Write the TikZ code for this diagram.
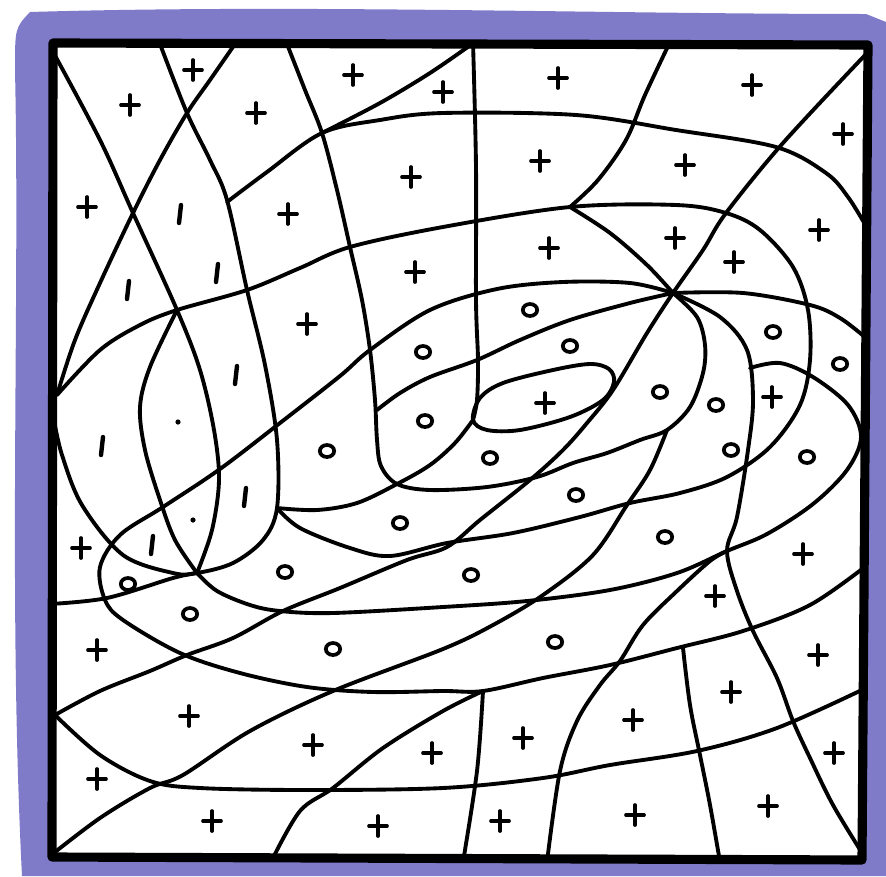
\documentclass[tikz,border=0pt]{standalone}
\definecolor{crayon}{RGB}{128,123,201}
\tikzset{
  ink/.style={line width=2.2pt, line cap=round, line join=round},
  framestyle/.style={line width=5.2pt, line join=round, line cap=round},
  mk/.style={line width=2.1pt, line cap=round},
  plusmk/.pic={\draw[mk] (-9,0) -- (9,0); \draw[mk] (0,-10) -- (0,10);},
  ringmk/.pic={\draw[mk] (0,0) ellipse [x radius=7.2, y radius=6];},
  onemk/.pic={\draw[line width=2.5pt, line cap=round] (1,-9) -- (-1,9);},
  dotmk/.pic={\fill (0,0) circle [radius=2.6];},
}
\begin{document}
\begin{tikzpicture}[x=0.02cm, y=-0.02cm]
\useasboundingbox (0,0) rectangle (886,876);
% crayon border
\fill[crayon] (30,12) .. controls (300,4) and (600,14) .. (866,14) -- (886,22) -- (886,876) -- (22,876)
   .. controls (8,600) and (20,300) .. (15,70) .. controls (15,28) .. (30,12) -- cycle;
\fill[white] (53,43) -- (868,45) -- (862,860) -- (52,857) -- cycle;
% junctions
\coordinate (star) at (673,293);
\coordinate (lensb) at (197,573);
\coordinate (ub) at (277,508);
\coordinate (hook) at (397,484);
\coordinate (ell) at (473,420);
\coordinate (vj) at (727,551);
\coordinate (h1j) at (322,133);
\coordinate (tj) at (570,207);
\coordinate (lf1) at (57,395);
\coordinate (lf2) at (55,715);
\coordinate (ov) at (667,430);
\coordinate (sj) at (483,691);
\begin{scope}
\clip (53,43) -- (868,45) -- (862,860) -- (52,857) -- cycle;
% a + S1
\draw[ink] plot[smooth, tension=0.55] coordinates {(52,50) (100,140) (133,213) (177,310) (200,370) (214,430) (219,480) (212,530) (lensb)};
\draw[ink] plot[smooth, tension=0.55] coordinates {(lensb) (217,591) (250,605) (280,611) (333,613) (443,607) (527,601) (610,590) (677,573) (vj) (767,534) (813,504) (847,470) (861,437) (848,405) (813,377) (780,363) (750,368)};
% b
\draw[ink] plot[smooth, tension=0.55] coordinates {(235,44) (210,80) (187,113) (160,160) (133,213) (100,283) (75,340) (lf1)};
% c (U)
\draw[ink] plot[smooth, tension=0.55] coordinates {(160,44) (187,113) (210,160) (227,200) (247,290) (265,365) (277,440) (ub) (263,540) (233,563) (lensb) (173,573) (123,555) (82,505) (62,455) (54,420)};
% d
\draw[ink] plot[smooth, tension=0.55] coordinates {(287,44) (305,90) (h1j) (337,190) (350,247) (362,300) (370,350) (375,400) (377,440) (381,466) (hook) (430,490) (487,487) (537,477) (573,463) (607,453) (640,440) (ov) (690,407) (703,373) (705,345) (697,317) (star)};
% H1
\draw[ink] plot[smooth, tension=0.55] coordinates {(227,202) (267,172) (h1j) (380,120) (443,113) (576,115) (676,130) (776,147) (826,173) (848,197) (866,226)};
\draw[ink] plot[smooth, tension=0.55] coordinates {(h1j) (380,103) (430,73) (472,44)};
% H2
\draw[ink] plot[smooth, tension=0.55] coordinates {(lf1) (100,350) (140,325) (177,310) (247,290) (300,268) (350,247) (443,227) (tj) (676,205) (726,213) (760,230) (793,267) (808,310) (810,360) (800,405) (770,447) (727,477) (680,493) (630,503) (580,517) (513,533) (447,543) (390,556) (350,548) (300,528) (ub)};
% lens left / left line
\draw[ink] plot[smooth, tension=0.55] coordinates {(50,604) (107,598) (173,578) (lensb)};
\draw[ink] plot[smooth, tension=0.55] coordinates {(lensb) (175,540) (160,500) (145,450) (140,407) (150,367) (177,310)};
% T
\draw[ink] plot[smooth, tension=0.55] coordinates {(670,42) (645,95) (626,140) (598,180) (tj)};
\draw[ink] plot[smooth, tension=0.55] coordinates {(tj) (610,233) (647,265) (star)};
% vertical x~475 and inner ellipse
\draw[ink] plot[smooth, tension=0.55] coordinates {(473,42) (476,167) (476,300) (478,360) (477,400) (ell)};
\draw[ink] plot[smooth cycle, tension=0.55] coordinates {(ell) (480,398) (503,383) (553,370) (590,364) (609,369) (614,382) (603,400) (570,417) (520,430) (487,430)};
% rising branch
\draw[ink] plot[smooth, tension=0.55] coordinates {(ub) (317,510) (357,503) (hook) (430,465) (455,443) (ell)};
% S2
\draw[ink] plot[smooth, tension=0.55] coordinates {(star) (630,283) (563,282) (497,289) (430,310) (370,350) (340,376) (280,423) (220,469) (163,507) (120,535) (100,567) (105,600) (123,620) (180,653) (240,673) (307,687) (373,692) (443,691) (sj) (543,678) (610,665) (677,648) (743,631) (810,605) (866,566)};
% S3
\draw[ink] plot[smooth, tension=0.55] coordinates {(star) (630,303) (570,320) (520,340) (477,360) (430,377) (400,393) (377,410)};
% D1
\draw[ink] plot[smooth, tension=0.55] coordinates {(lf2) (100,691) (150,671) (187,655) (233,638) (283,611) (340,588) (407,560) (447,547) (480,520) (530,480) (563,450) (587,423) (613,390) (647,333) (star) (703,250) (726,213) (783,143) (868,52)};
% D2
\draw[ink] plot[smooth, tension=0.55] coordinates {(50,856) (100,818) (150,788) (183,775) (250,731) (333,691) (443,649) (493,625) (543,595) (593,555) (627,505) (650,470) (ov)};
% B1
\draw[ink] plot[smooth, tension=0.55] coordinates {(lf2) (100,755) (150,781) (200,788) (307,790) (443,788) (543,778) (610,765) (697,751) (777,728) (866,688)};
% R1
\draw[ink] plot[smooth, tension=0.55] coordinates {(star) (743,293) (810,305) (840,318) (866,338)};
% V1
\draw[ink] plot[smooth, tension=0.55] coordinates {(star) (720,317) (747,350) (753,400) (748,450) (737,517) (vj) (737,591) (753,631) (777,678) (793,721) (810,758) (833,805) (864,856)};
% V2
\draw[ink] plot[smooth, tension=0.55] coordinates {(vj) (710,561) (677,591) (643,625) (620,661) (600,685) (577,721) (560,771) (547,862)};
% V3
\draw[ink] plot[smooth, tension=0.55] coordinates {(683,648) (690,705) (700,755) (710,805) (720,862)};
% V4 / V5
\draw[ink] plot[smooth, tension=0.55] coordinates {(272,860) (300,811) (333,788) (383,748) (443,711) (sj)};
\draw[ink] plot[smooth, tension=0.55] coordinates {(sj) (477,771) (463,862)};
\end{scope}
% frame
\draw[framestyle] (53,43) -- (868,45) -- (862,860) -- (52,857) -- cycle;
% plus marks
\foreach \p in {(193,70),(130,105),(353,75),(443,92),(256,113),(558,78),(752,85),(843,134),
  (87,207),(288,214),(411,177),(540,161),(685,165),(819,230),(415,272),(549,248),(675,238),
  (734,262),(307,324),(545,403),(772,397),(81,548),(803,554),(715,596),(97,650),(818,655),
  (189,716),(313,745),(432,753),(523,738),(633,720),(731,692),(97,779),(834,753),(212,821),
  (378,826),(500,821),(635,815),(768,806)}
  \pic at \p {plusmk};
% ring marks
\foreach \p in {(530,310),(570,346),(423,352),(773,332),(840,364),(425,421),(660,392),(716,405),
  (327,451),(490,458),(731,450),(807,457),(576,495),(400,523),(665,537),(285,572),(471,575),
  (128,584),(190,614),(333,649),(555,642)}
  \pic at \p {ringmk};
% one marks
\foreach \p in {(180,214),(217,273),(128,290),(236,375),(102,446),(245,497),(152,545)}
  \pic at \p {onemk};
\pic at (178,422) {dotmk};
\pic at (193,520) {dotmk};
\end{tikzpicture}
\end{document}
